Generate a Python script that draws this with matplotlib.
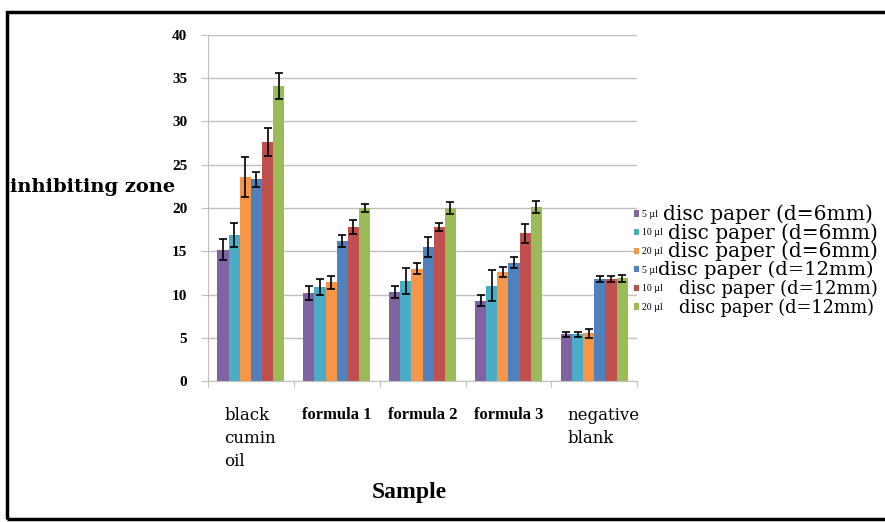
import numpy as np
import matplotlib
matplotlib.use('Agg')
import matplotlib.pyplot as plt
from matplotlib.patches import Rectangle

# samples on the x axis
samples = ['black\ncumin\noil', 'formula 1', 'formula 2', 'formula 3', 'negative\nblank']

# one series per disc / volume (inhibiting zone, mm)
s5_6 = [15.2, 10.2, 10.3, 9.3, 5.4]
s10_6 = [16.9, 10.9, 11.6, 11.0, 5.4]
s20_6 = [23.6, 11.4, 13.0, 12.6, 5.5]
s5_12 = [23.3, 16.2, 15.5, 13.7, 11.8]
s10_12 = [27.6, 17.8, 17.8, 17.1, 11.8]
s20_12 = [34.1, 20.0, 20.0, 20.1, 11.9]

e5_6 = [1.2, 0.8, 0.7, 0.6, 0.3]
e10_6 = [1.4, 0.9, 1.5, 1.8, 0.3]
e20_6 = [2.3, 0.8, 0.6, 0.6, 0.5]
e5_12 = [0.9, 0.7, 1.2, 0.6, 0.4]
e10_12 = [1.6, 0.8, 0.5, 1.1, 0.4]
e20_12 = [1.5, 0.5, 0.7, 0.7, 0.4]

# legend text: small volume part + larger disc part
vol_labels = ['5 µl', '10 µl', '20 µl', '5 µl', '10 µl', '20 µl']
disc_labels = ['disc paper (d=6mm)', 'disc paper (d=6mm)', 'disc paper (d=6mm)',
               'disc paper (d=12mm)', 'disc paper (d=12mm)', 'disc paper (d=12mm)']

series = [s5_6, s10_6, s20_6, s5_12, s10_12, s20_12]
errors = [e5_6, e10_6, e20_6, e5_12, e10_12, e20_12]
colors = ['#8064A2', '#4BACC6', '#F79646', '#4F81BD', '#C0504D', '#9BBB59']

plt.rcParams['font.family'] = ['Liberation Serif', 'DejaVu Serif']

fig = plt.figure(figsize=(8.85, 5.22), dpi=100)
ax = fig.add_axes([0.235, 0.270, 0.485, 0.663])

x = np.arange(len(samples))
w = 0.13
for i in range(6):
    pos = x + (i - 2.5) * w
    ax.bar(pos, series[i], width=w, color=colors[i], label=vol_labels[i], zorder=2)
    ax.errorbar(pos, series[i], yerr=errors[i], fmt='none', ecolor='black',
                elinewidth=1.2, capsize=3, capthick=1.2, zorder=3)

ax.set_xlim(-0.5, 4.5)
ax.set_ylim(0, 40)
ax.set_yticks(range(0, 41, 5))
ax.yaxis.grid(True, color='#c0c0c0', linewidth=1)
ax.set_axisbelow(True)
for s in ['top', 'right']:
    ax.spines[s].set_visible(False)
ax.spines['left'].set_color('#c0c0c0')
ax.spines['bottom'].set_color('#c0c0c0')
ax.tick_params(axis='y', colors='#c0c0c0', length=5, pad=10)
for t in ax.get_yticklabels():
    t.set_color('black')
    t.set_fontweight('bold')
    t.set_fontsize(11)

# category ticks between groups, labels at group centres
ax.set_xticks(np.arange(-0.5, 5, 1))
ax.set_xticklabels([])
ax.tick_params(axis='x', colors='#c0c0c0', length=4)
for i, lab in enumerate(samples):
    if lab.startswith('formula'):
        ax.text(i, -3.0, lab, ha='center', va='top', fontsize=12,
                fontweight='bold')
    else:
        ax.text(i - 0.31, -3.0, lab, ha='left', va='top', fontsize=12,
                family='DejaVu Serif', linespacing=1.45)

fig.text(0.462, 0.057, 'Sample', fontsize=17, fontweight='bold',
         ha='center', va='center')
fig.text(0.011, 0.642, 'inhibiting zone', fontsize=14, fontweight='bold',
         family='DejaVu Serif', ha='left', va='center')

leg = ax.legend(loc='upper left', bbox_to_anchor=(0.716, 0.598),
                bbox_transform=fig.transFigure, frameon=False, fontsize=7,
                handlelength=0.6, handleheight=0.6, handletextpad=0.25,
                labelspacing=0.99, borderpad=0, borderaxespad=0)

# larger "disc paper" part next to each small legend label
gaps = [5, 5, 5, 0, 16, 16]
sizes = [14.5, 14.5, 14.5, 14, 13, 12.8]
fig.canvas.draw()
r = fig.canvas.get_renderer()
for t, g, sz, txt in zip(leg.get_texts(), gaps, sizes, disc_labels):
    bb = t.get_window_extent(r)
    fig.text((bb.x1 + g) / fig.bbox.width, (bb.y0 + bb.y1) / 2 / fig.bbox.height,
             txt, fontsize=sz, family='DejaVu Serif', ha='left', va='center')

fig.patches.append(Rectangle((0.008, 0.005), 1.2, 0.972, transform=fig.transFigure,
                             fill=False, edgecolor='black', linewidth=2.5))

fig.savefig('out.png', dpi=100)
